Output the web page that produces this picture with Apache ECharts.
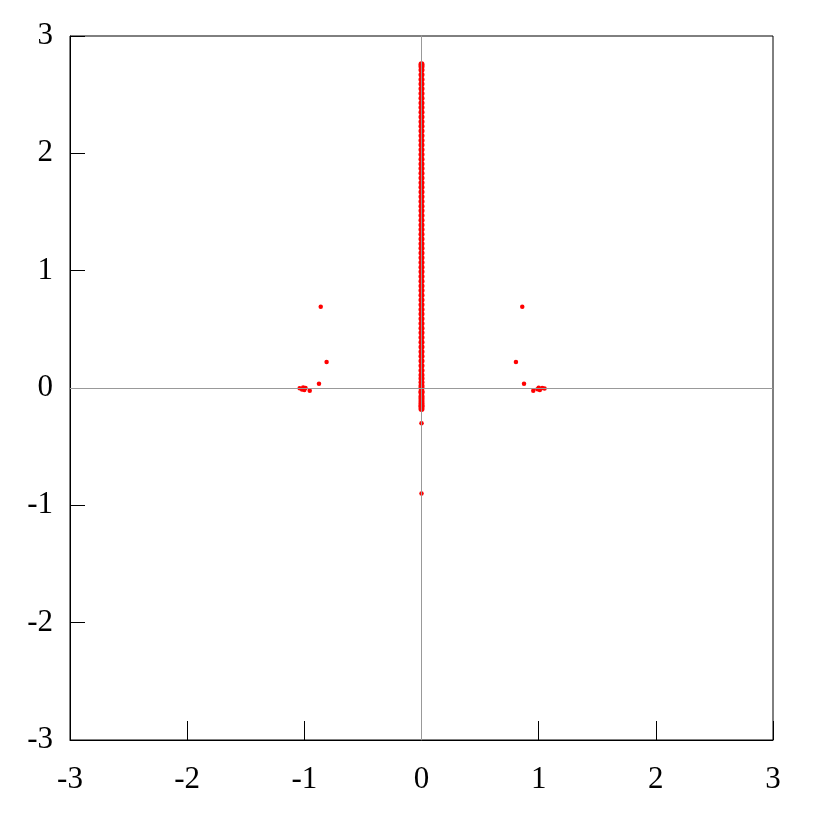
<!DOCTYPE html>
<html>
<head>
<meta charset="utf-8">
<script src="https://cdn.jsdelivr.net/npm/echarts@6/dist/echarts.min.js"></script>
<style>
  html, body { margin: 0; padding: 0; background: #fff; }
  #chart { width: 817px; height: 817px; }
</style>
</head>
<body>
<div id="chart"></div>
<script>
(function() {
    "use strict";

    // axis ticks
    var xTicks = [-3, -2, -1, 0, 1, 2, 3];
    var yTicks = [-3, -2, -1, 0, 1, 2, 3];

    // column of points on x = 0 (y values)
    var centerY = [
        -0.18, -0.16, -0.15, -0.13, -0.11, -0.09, -0.07, -0.04, -0.03,
        0.00, 0.02, 0.05, 0.08, 0.11, 0.15, 0.19, 0.23, 0.27, 0.31, 0.35, 0.39,
        0.43, 0.47, 0.51, 0.55, 0.59, 0.63, 0.67, 0.71, 0.75, 0.79, 0.83, 0.87,
        0.91, 0.95, 0.99, 1.03, 1.07, 1.11, 1.15, 1.19, 1.23, 1.27, 1.31, 1.35,
        1.39, 1.43, 1.47, 1.51, 1.55, 1.59, 1.63, 1.67, 1.71, 1.75, 1.79, 1.83,
        1.87, 1.91, 1.95, 1.99, 2.03, 2.07, 2.11, 2.15, 2.19, 2.23, 2.27, 2.31,
        2.35, 2.39, 2.43, 2.47, 2.51, 2.55, 2.59, 2.63, 2.67, 2.71, 2.74, 2.76
    ];

    // isolated points (x, y)
    var leftX  = [-0.86, -0.81, -0.875, -0.954, -1.04, -1.02, -1.01, -1.00, -0.99];
    var leftY  = [0.693, 0.222, 0.037, -0.023, -0.002, -0.012, 0.004, -0.016, 0.000];
    var rightX = [0.86, 0.806, 0.875, 0.954, 0.99, 1.00, 1.01, 1.03, 1.05];
    var rightY = [0.693, 0.222, 0.037, -0.023, -0.010, 0.002, -0.018, 0.000, -0.004];
    var lowX   = [0, 0];
    var lowY   = [-0.30, -0.90];

    var centerData = centerY.map(function(y) { return [0, y]; });
    var sideData = leftX.map(function(x, i) { return [x, leftY[i]]; })
        .concat(rightX.map(function(x, i) { return [x, rightY[i]]; }))
        .concat(lowX.map(function(x, i) { return [x, lowY[i]]; }));

    var labelFont = {
        fontFamily: 'Liberation Serif',
        fontSize: 31,
        color: '#000'
    };

    var chart = echarts.init(document.getElementById('chart'));
    var option = {
        animation: false,
        grid: {
            left: 70,
            right: 44,
            top: 36,
            bottom: 77,
            show: true,
            borderColor: '#000',
            borderWidth: 1,
            backgroundColor: 'transparent'
        },
        xAxis: {
            type: 'value',
            min: xTicks[0],
            max: xTicks[xTicks.length - 1],
            interval: 1,
            axisLine: { onZero: false, lineStyle: { color: '#000', width: 1 } },
            axisTick: { inside: true, length: 19, lineStyle: { color: '#000' } },
            axisLabel: Object.assign({ margin: 24 }, labelFont),
            splitLine: { show: false }
        },
        yAxis: {
            type: 'value',
            min: yTicks[0],
            max: yTicks[yTicks.length - 1],
            interval: 1,
            axisLine: { show: true, onZero: false, lineStyle: { color: '#000', width: 1 } },
            axisTick: { show: true, inside: true, length: 15, lineStyle: { color: '#000' } },
            axisLabel: Object.assign({ margin: 17 }, labelFont),
            splitLine: { show: false }
        },
        series: [{
            type: 'scatter',
            data: [],
            silent: true,
            markLine: {
                silent: true,
                symbol: ['none', 'none'],
                label: { show: false },
                lineStyle: { color: '#999', width: 1, type: 'solid' },
                data: [{ xAxis: 0 }, { yAxis: 0 }]
            }
        }, {
            type: 'scatter',
            data: centerData,
            symbolSize: 6,
            itemStyle: { color: '#ff0000', opacity: 1 }
        }, {
            type: 'scatter',
            data: sideData,
            symbolSize: 4.5,
            itemStyle: { color: '#ff0000', opacity: 1 }
        }]
    };
    chart.setOption(option);
})();
</script>
</body>
</html>
